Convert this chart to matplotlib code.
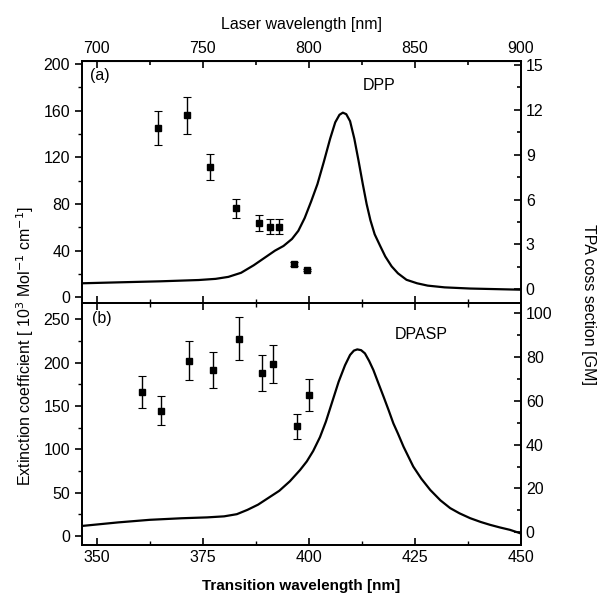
import numpy as np
import matplotlib.pyplot as plt
from matplotlib.ticker import MultipleLocator, FixedLocator

plt.rcParams['font.family'] = ['Liberation Sans', 'DejaVu Sans']
plt.rcParams['font.size'] = 11.5

# (a) DPP: one-photon absorption (extinction, 10^3 /M/cm) vs transition wavelength
dpp_wl = [346.5, 355, 365, 374, 378, 381, 384, 387, 390, 392, 394, 396,
          397.5, 399, 400.5, 402, 403.5, 405, 406.2, 407.2, 408, 408.8, 409.7,
          410.7, 411.7, 412.7, 413.6, 414.5, 415.5, 416.8, 418, 419.5, 421,
          423, 425.5, 428, 432, 438, 444, 450]
dpp_ext = [12, 12.8, 13.7, 14.8, 15.8, 17.5, 21, 27.5, 35, 40, 44, 50,
           57, 68, 82, 97, 116, 136, 150, 156.5, 158.3, 157, 151,
           136, 117, 97, 80, 66, 54, 44, 35, 26.5, 20.5,
           15, 12, 10, 8.5, 7.5, 7, 6.5]
# DPP TPA cross section (GM)
dpp_tpa_wl = [364.5, 371.2, 376.7, 382.75, 388.3, 390.9, 392.9, 396.4, 399.6]
dpp_tpa = [10.8, 11.64, 8.16, 5.42, 4.41, 4.19, 4.19, 1.67, 1.29]
dpp_tpa_err = [1.15, 1.24, 0.87, 0.62, 0.53, 0.48, 0.48, 0.13, 0.05]

# (b) DPASP
dpasp_wl = [346.7, 355, 362.5, 370, 376, 380, 383, 385.5, 388, 390.5, 393,
            395.5, 397.9, 399.5, 401, 402.6, 404, 405.5, 407, 408.5, 409.7,
            410.6, 411.4, 412.3, 413.2, 414.2, 415.2, 416.4, 417.6, 418.8,
            419.9, 421, 422.3, 423.5, 424.6, 426.5, 428.6, 431, 433.3, 435.5,
            438, 440.5, 442.7, 445, 447.4, 449.8]
dpasp_ext = [11.5, 15.5, 18.5, 20.3, 21.3, 22.5, 25, 30, 36, 44, 52,
             63, 76, 86, 98, 114, 132, 155, 178, 197, 209,
             214, 215.4, 214.5, 210.8, 202, 191.5, 176, 160.7, 145,
             130, 118, 103, 91, 80, 66, 53, 41, 32, 26,
             20.4, 16, 12.7, 9.7, 6.9, 3]
dpasp_tpa_wl = [360.7, 365.2, 371.7, 377.3, 383.4, 389.0, 391.5, 397.1, 400.0]
dpasp_tpa = [63.9, 55.4, 78.2, 73.9, 88.4, 72.6, 76.8, 48.3, 62.6]
dpasp_tpa_err = [7.4, 6.6, 8.9, 8.3, 9.7, 8.3, 8.7, 5.8, 7.2]

laser_ticks = [700, 750, 800, 850, 900]

fig = plt.figure(figsize=(5.97, 5.94), dpi=100)
ax1 = fig.add_axes([0.1374, 0.4899, 0.7353, 0.4074])
ax2 = fig.add_axes([0.1374, 0.0825, 0.7353, 0.4074], sharex=ax1)
r1 = ax1.twinx()
r2 = ax2.twinx()

ax1.plot(dpp_wl, dpp_ext, color='black', lw=1.6)
r1.errorbar(dpp_tpa_wl, dpp_tpa, yerr=dpp_tpa_err, fmt='s', color='black',
            ms=4, capsize=3, elinewidth=1, capthick=0.8)
ax2.plot(dpasp_wl, dpasp_ext, color='black', lw=1.6)
r2.errorbar(dpasp_tpa_wl, dpasp_tpa, yerr=dpasp_tpa_err, fmt='s', color='black',
            ms=4, capsize=3, elinewidth=1, capthick=0.8)

ax1.set_xlim(346.5, 450)
ax1.set_ylim(-4.9, 202.6)
r1.set_ylim(-0.92, 15.27)
ax2.set_ylim(-10.6, 269)
r2.set_ylim(-5.8, 104.6)

for ax in (ax1, ax2):
    ax.xaxis.set_major_locator(MultipleLocator(25))
    ax.xaxis.set_minor_locator(MultipleLocator(12.5))
    ax.tick_params(axis='x', which='both', direction='in', top=True)
    ax.tick_params(axis='y', which='both', direction='out')
    ax.tick_params(which='major', length=5, width=1.2)
    ax.tick_params(which='minor', length=3, width=1)
ax1.tick_params(axis='x', which='both', labelbottom=False, top=False)
ax1.yaxis.set_major_locator(MultipleLocator(40))
ax1.yaxis.set_minor_locator(MultipleLocator(20))
ax2.yaxis.set_major_locator(MultipleLocator(50))
ax2.yaxis.set_minor_locator(MultipleLocator(25))
r1.yaxis.set_major_locator(MultipleLocator(3))
r1.yaxis.set_minor_locator(MultipleLocator(1.5))
r2.yaxis.set_major_locator(MultipleLocator(20))
r2.yaxis.set_minor_locator(MultipleLocator(10))
for r in (r1, r2):
    r.tick_params(which='both', direction='in', width=1.2)
    r.tick_params(which='major', length=5)
    r.tick_params(which='minor', length=3)

for ax in (ax1, ax2, r1, r2):
    for s in ax.spines.values():
        s.set_linewidth(1.3)

top = ax1.secondary_xaxis('top', functions=(lambda x: 2 * x, lambda x: x / 2))
top.xaxis.set_major_locator(FixedLocator(laser_ticks))
top.xaxis.set_minor_locator(FixedLocator([725, 775, 825, 875]))
top.tick_params(which='both', direction='in', width=1.2)
top.tick_params(which='major', length=5)
top.tick_params(which='minor', length=3)
top.set_xlabel('Laser wavelength [nm]', labelpad=9)

ax2.set_xlabel('Transition wavelength [nm]', fontweight='bold', fontsize=11,
               labelpad=10)

ax1.text(0.018, 0.942, '(a)', transform=ax1.transAxes, va='center', ha='left')
ax1.text(0.64, 0.897, 'DPP', transform=ax1.transAxes, va='center', ha='left')
ax2.text(0.023, 0.934, '(b)', transform=ax2.transAxes, va='center', ha='left')
ax2.text(0.713, 0.868, 'DPASP', transform=ax2.transAxes, va='center', ha='left')

fig.text(0.042, 0.418, r'Extinction coefficient [ 10$^3$ Mol$^{-1}$ cm$^{-1}$]',
         rotation=90, ha='center', va='center')
fig.text(0.985, 0.487, 'TPA coss section [GM]', rotation=270,
         ha='center', va='center')

fig.savefig('out.png', dpi=100)
